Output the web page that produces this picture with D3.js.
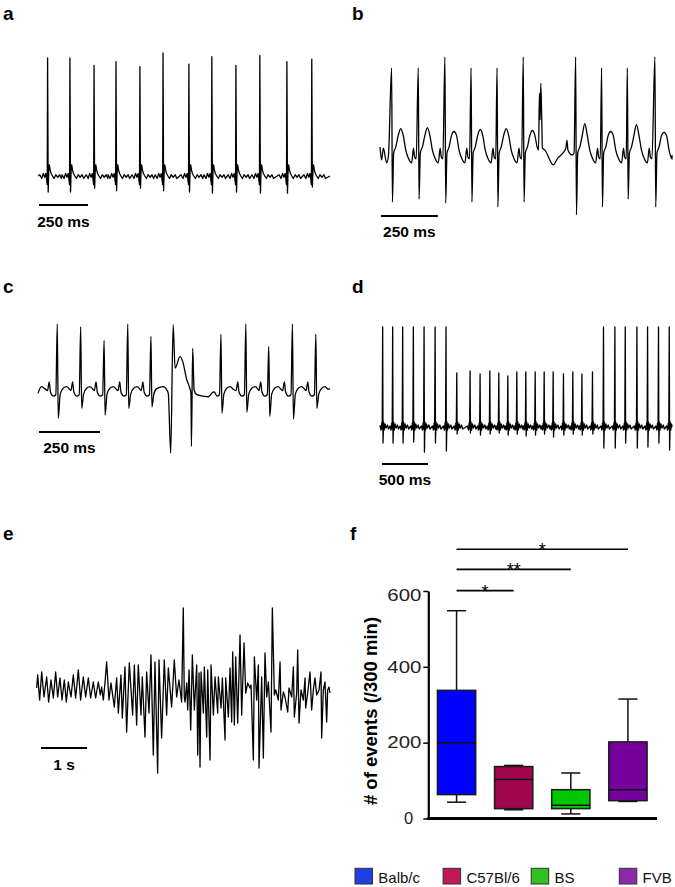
<!DOCTYPE html>
<html><head><meta charset="utf-8">
<script src="https://cdn.jsdelivr.net/npm/d3@7"></script>
<style>
html,body{margin:0;padding:0;background:#fff;}
svg{display:block;font-family:"Liberation Sans",Arial,Helvetica,sans-serif;}
</style></head><body>
<svg id="fig" width="675" height="887"></svg>
<script>
// ================= DATA =================
// Panel a — beat times (ms), R peak and S trough amplitudes (rel. units)
const aBeatMs = [49,163,286,398,520,638,770,887,1010,1132,1270,1397];
const aR = [0.96,0.96,0.90,0.93,0.89,1.0,0.91,0.97,0.90,0.98,0.93,0.95];
const aS = [-0.13,-0.13,-0.10,-0.12,-0.10,-0.12,-0.13,-0.14,-0.13,-0.14,-0.14,-0.09];
const aShape = [[-40,0.01],[-30,-0.02],[-22,0.02],[-15,-0.01],[-9,0.02],[-5,-0.03],[-2,-0.07],[0,"R"],[3,"S"],[6,0.04],[9,0.09],[13,0.05],[18,0.02],[25,0.0],[33,-0.02],[42,0.01],[52,-0.01],[62,0.01],[70,-0.02]];
const aExtra = [[0,0.0],[1490,0.0]];

// Panel b
const bBeatMs = [51,168,285,400,514,629,859,973,1086,1207];
const bR = [0.89,0.89,1.0,0.89,0.89,1.0,1.0,0.89,0.89,1.0];
const bS = [-0.48,-0.45,-0.49,-0.48,-0.53,-0.48,-0.61,-0.53,-0.45,-0.53];
const bT = [0.27,0.28,0.24,0.26,0.27,0.25,0.32,0.24,0.31,0.23];
const bShape = [[0,"R"],[3.5,"S"],[9,0.02],[18,0.08],[29,0.2],[40,"T"],[51,0.2],[62,0.05],[75,-0.04],[88,-0.08],[96,0.07],[101,-0.02],[108,-0.04]];
const bExtra = [[0,0.08],[7,-0.05],[15,0.07],[29,-0.08],[37,-0.01],
  [691,0.07],[696,0.05],[700,0.63],[703,0.36],[706,0.73],[710,0.38],[713,0.07],[724,0.05],[761,-0.10],[781,-0.03],[803,0.02],[816,0.07],[821,0.15],[825,0.05],[843,0.0],[852,0.02],[1282,0.0]];
const bGap = [685,855];

// Panel c
const cBeatMs = [79,175,271,368,463,750,852,946,1043,1139];
const cR = [1.0,0.96,0.76,1.0,0.82,0.85,1.0,0.67,1.0,0.85];
const cS = [-0.39,-0.24,-0.34,-0.24,-0.22,-0.31,-0.30,-0.36,-0.40,-0.24];
const cShape = [[-40,0.02],[-33,0.15],[-28,0.0],[-16,-0.06],[-6,-0.04],[0,"R"],[4,"S"],[12,-0.03],[25,0.06],[38,0.08],[50,0.04]];
const cExtra = [[0,-0.02],[14,0.08],[28,0.05],
  [487,0.05],[514,0.08],[528,0.03],[534,-0.02],[544,-0.90],[554,0.99],[562,0.35],[582,0.52],[593,0.45],[610,0.18],[620,0.08],[627,-0.02],[629,-0.80],[634,0.64],[640,0.03],[651,-0.04],[678,-0.06],[698,-0.07],[719,0.0],[1197,0.05]];
const cGap = [484,722];

// Panel d
const dBeatMs = [29,138,247,363,480,600,719,
  836,981,1090,1196,1294,1392,1490,1588,1690,1788,1886,1998,2100,2199,2314,
  2434,2558,2671,2798,2914,3033,3150];
const dR = [1,1,1,1,1,1,1,
  0.54,0.56,0.53,0.56,0.54,0.51,0.55,0.55,0.55,0.55,0.55,0.53,0.55,0.53,0.55,
  1,1,1,1,1,1,1];
const dS = [-0.16,-0.16,-0.16,-0.15,-0.25,-0.16,-0.24,
  -0.07,-0.06,-0.08,-0.07,-0.06,-0.08,-0.07,-0.09,-0.08,-0.07,-0.10,-0.08,-0.07,-0.08,-0.07,
  -0.21,-0.21,-0.16,-0.21,-0.20,-0.16,-0.23];
const dShape = [[-28,0.01],[-18,-0.03],[-10,0.04],[-5,-0.02],[0,"R"],[4,"S"],[10,0.05],[17,-0.03],[26,0.03],[38,-0.01],[52,0.02],[64,-0.02]];
const dExtra = [[0,0.0],[3180,0.0]];

// Panel e — trace vertices (ms, rel. units)
const ePoints = [
[36,0.02],[58,0.15],[101,-0.10],[145,0.18],[195,-0.07],[253,0.13],[296,-0.12],[347,0.10],[398,-0.08],[448,0.18],[492,-0.07],[542,0.12],[586,-0.10],[636,0.10],[680,-0.12],[723,0.08],[781,-0.07],[831,0.15],[882,-0.08],[940,0.20],[990,-0.10],[1048,0.13],[1099,-0.07],[1157,0.12],[1207,-0.08],[1265,0.08],[1316,-0.08],[1374,0.08],[1417,-0.05],[1446,0.03],[1482,-0.10],[1518,0.07],
[1554,0.28],[1605,-0.10],[1648,0.07],[1721,-0.17],[1771,0.12],[1808,-0.23],[1865,0.15],[1894,-0.28],[1952,0.23],[1988,-0.42],[2046,0.27],[2118,-0.25],[2155,0.25],[2205,-0.35],[2241,0.25],[2299,-0.25],[2328,0.13],[2386,-0.47],[2422,0.18],[2473,-0.23],[2516,0.35],[2567,-0.65],[2603,0.28],[2661,-0.83],[2690,0.30],[2747,-0.48],[2805,0.30],[2856,-0.25],[2892,0.22],[2964,-0.17],[3022,0.30],[3073,-0.07],[3123,0.10],[3181,-0.12],[3217,0.82],[3239,-0.07],
[3255,-0.12],[3291,0.07],[3313,-0.20],[3342,0.20],[3378,-0.40],[3414,0.35],[3457,-0.20],[3508,0.25],[3530,-0.65],[3559,0.17],[3580,-0.77],[3602,0.18],[3653,-0.23],[3674,0.23],[3725,-0.47],[3747,0.20],[3797,-0.70],[3819,0.25],[3870,-0.25],[3906,0.13],[3964,-0.23],[3978,0.13],[4036,-0.18],[4065,0.12],[4123,-0.50],[4137,0.12],[4195,-0.27],[4231,0.22],[4267,-0.32],[4289,0.38],[4325,-0.35],[4354,0.33],[4397,-0.33],[4448,0.55],[4484,-0.25],[4535,0.47],[4571,-0.03],[4614,0.07],[4665,0.02],[4687,0.05],[4737,-0.70],[4759,0.33],[4810,-0.10],[4846,0.25],[4860,-0.78],[4918,0.13],[4954,-0.68],[4990,0.37],[5026,-0.07],[5063,0.08],[5120,-0.42],[5149,0.82],[5193,-0.05],[5222,0.00],[5279,-0.10],[5316,0.28],[5337,-0.20],[5388,-0.02],[5424,-0.07],[5482,-0.22],[5511,0.02],[5569,-0.07],[5605,0.23],[5626,-0.27],[5677,-0.03],[5699,0.40],[5728,-0.33],[5771,0.00],[5822,-0.10],[5858,0.12],[5872,-0.18],[5916,-0.03],[5966,0.18],[6002,-0.20],[6038,0.00],[6075,0.12],[6111,-0.05],[6162,0.00],[6205,0.18],[6219,-0.48],[6255,0.00],[6292,0.08],[6328,-0.32],[6349,0.00],[6378,0.03],[6400,-0.03]
];

// Panel f — box plot (# of events / 300 min)
const groups = ["Balb/c","C57Bl/6","BS","FVB"];
const minV = [43, 23, 12, 45];
const q1V  = [63, 26, 26, 47];
const medV = [200, 103, 35, 76];
const q3V  = [338, 137, 76, 202];
const maxV = [548, 140, 120, 315];
const boxColors = ["#0000FF","#A0064C","#00C800","#76009B"];
const legendColors = ["#2040E0","#C0185A","#30C020","#8B2BA8"];
const yTicks = [0, 200, 400, 600];
const sigFrom = ["Balb/c","Balb/c","Balb/c"];
const sigTo = ["C57Bl/6","BS","FVB"];
const sigLabel = ["*","**","*"];
const sigLevel = [601, 657, 710];

// ================= BUILD =================
function buildTrace(beats, R, S, T, shape, extras, gap, domain){
  let pts = [];
  beats.forEach((bt,i)=>{
    shape.forEach(([dt,v])=>{
      const val = v==="R"?R[i]:v==="S"?S[i]:v==="T"?T[i]:v;
      pts.push([bt+dt,val]);
    });
  });
  if(gap) pts = pts.filter(p=>!(p[0]>gap[0]&&p[0]<gap[1]));
  pts = pts.concat(extras||[]);
  pts = pts.filter(p=>p[0]>=domain[0]&&p[0]<=domain[1]);
  pts.sort((a,b)=>a[0]-b[0]);
  return pts;
}

const svg = d3.select("#fig");

const panels = [
  {letter:"a", lx:3, ly:20, xr:[38,330], base:176, unit:123, ms:[0,1490], smooth:false,
   pts: buildTrace(aBeatMs,aR,aS,null,aShape,aExtra,null,[0,1490]),
   bar:{start:5,len:250,label:"250 ms",y:205,ty:227}},
  {letter:"b", lx:352, ly:20, xr:[380,672], base:155, unit:98, ms:[0,1282], smooth:true,
   pts: buildTrace(bBeatMs,bR,bS,bT,bShape,bExtra,bGap,[0,1282]),
   bar:{start:4,len:250,label:"250 ms",y:216,ty:237}},
  {letter:"c", lx:3, ly:293, xr:[38,330], base:392, unit:68, ms:[0,1197], smooth:true,
   pts: buildTrace(cBeatMs,cR,cS,null,cShape,cExtra,cGap,[0,1197]),
   bar:{start:4,len:250,label:"250 ms",y:432,ty:453}},
  {letter:"d", lx:352, ly:293, xr:[380,672], base:427, unit:100, ms:[0,3180], smooth:false,
   pts: buildTrace(dBeatMs,dR,dS,null,dShape,dExtra,null,[0,3180]),
   bar:{start:22,len:500,label:"500 ms",y:464,ty:485}},
  {letter:"e", lx:3, ly:540, xr:[35,330], base:690, unit:100, ms:[0,6400], smooth:false,
   pts: ePoints,
   bar:{start:130,len:1000,label:"1 s",y:748,ty:770}}
];

panels.forEach(p=>{
  const x = d3.scaleLinear().domain(p.ms).range(p.xr);
  const y = d3.scaleLinear().domain([0,1]).range([p.base, p.base-p.unit]);
  const line = d3.line().x(d=>x(d[0])).y(d=>y(d[1]));
  if(p.smooth) line.curve(d3.curveMonotoneX);
  svg.append("path").datum(p.pts).attr("d",line)
    .attr("fill","none").attr("stroke","#000").attr("stroke-width",1.3)
    .attr("stroke-linejoin","round");
  svg.append("line")
    .attr("x1",x(p.bar.start)).attr("x2",x(p.bar.start+p.bar.len))
    .attr("y1",p.bar.y).attr("y2",p.bar.y)
    .attr("stroke","#000").attr("stroke-width",2);
  svg.append("text").attr("x",x(p.bar.start+p.bar.len/2)).attr("y",p.bar.ty)
    .attr("text-anchor","middle").attr("font-size","15.5px").attr("font-weight","bold")
    .text(p.bar.label);
  svg.append("text").attr("x",p.lx).attr("y",p.ly)
    .attr("font-size","19px").attr("font-weight","bold").text(p.letter);
});
svg.append("text").attr("x",350).attr("y",540)
  .attr("font-size","19px").attr("font-weight","bold").text("f");

// ---------- Panel f ----------
const xb = d3.scaleBand().domain(groups).range([428,656.5]).paddingInner(0.33).paddingOuter(0.165);
const yb = d3.scaleLinear().domain([0,600]).range([818.5,591]);
const bw = xb.bandwidth();
const cx = g=>xb(g)+bw/2;

const yAxis = d3.axisLeft(yb).tickValues(yTicks).tickSize(5).tickSizeOuter(0).tickPadding(2);
const ya = svg.append("g").attr("transform","translate(428.3,0)").call(yAxis);
ya.select(".domain").attr("stroke","#000").attr("stroke-width",2.2);
ya.selectAll(".tick line").attr("stroke","#000").attr("stroke-width",1.5);
ya.selectAll(".tick text").attr("font-size","16.5px").attr("fill","#222")
  .attr("font-family",'"Liberation Sans",Arial,sans-serif')
  .each(function(d){
    const t = d3.select(this);
    if(d!==0){ t.attr("textLength",34).attr("lengthAdjust","spacingAndGlyphs"); }
    else { t.attr("x",-15); }
    if(d===600){ t.attr("dy","0.58em"); }
  });

svg.append("line").attr("x1",427.2).attr("x2",657).attr("y1",818.5).attr("y2",818.5)
  .attr("stroke","#000").attr("stroke-width",3);

svg.append("text").attr("transform","translate(377,711) rotate(-90)")
  .attr("text-anchor","middle").attr("font-size","18.5px").attr("font-weight","bold")
  .text("# of events (/300 min)");

groups.forEach((g,i)=>{
  const c = cx(g);
  svg.append("line").attr("x1",c).attr("x2",c).attr("y1",yb(maxV[i])).attr("y2",yb(q3V[i]))
    .attr("stroke","#111").attr("stroke-width",1.5);
  svg.append("line").attr("x1",c).attr("x2",c).attr("y1",yb(q1V[i])).attr("y2",yb(minV[i]))
    .attr("stroke","#111").attr("stroke-width",1.5);
  [maxV[i],minV[i]].forEach(v=>{
    svg.append("line").attr("x1",c-bw/4).attr("x2",c+bw/4).attr("y1",yb(v)).attr("y2",yb(v))
      .attr("stroke","#111").attr("stroke-width",1.5);
  });
  svg.append("rect").attr("x",xb(g)).attr("y",yb(q3V[i])).attr("width",bw)
    .attr("height",yb(q1V[i])-yb(q3V[i])).attr("fill",boxColors[i])
    .attr("stroke","#1a1a1a").attr("stroke-width",1.5);
  svg.append("line").attr("x1",xb(g)).attr("x2",xb(g)+bw).attr("y1",yb(medV[i])).attr("y2",yb(medV[i]))
    .attr("stroke","#111").attr("stroke-width",1.5);
});

sigFrom.forEach((f,i)=>{
  const x1 = cx(f), x2 = cx(sigTo[i]), yy = yb(sigLevel[i]);
  svg.append("line").attr("x1",x1).attr("x2",x2).attr("y1",yy).attr("y2",yy)
    .attr("stroke","#000").attr("stroke-width",1.6);
  svg.append("text").attr("x",(x1+x2)/2).attr("y",yy+7).attr("text-anchor","middle")
    .attr("font-size","18px").text(sigLabel[i]);
});

// legend
groups.forEach((g,i)=>{
  const lx = 355 + i*88.1;
  svg.append("rect").attr("x",lx).attr("y",868.3).attr("width",17.5).attr("height",15.7)
    .attr("fill",legendColors[i]).attr("stroke","#333").attr("stroke-width",1);
  svg.append("text").attr("x",lx+23.3).attr("y",882.7).attr("font-size","15px").attr("fill","#111")
    .text(g);
});
</script>
</body></html>
